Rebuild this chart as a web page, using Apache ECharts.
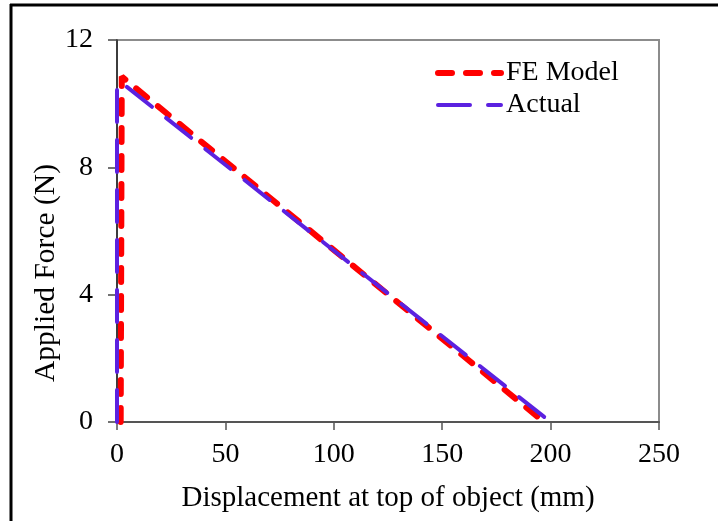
<!DOCTYPE html>
<html>
<head>
<meta charset="utf-8">
<script src="https://cdn.jsdelivr.net/npm/echarts@6/dist/echarts.min.js"></script>
<style>
  html, body { margin: 0; padding: 0; background: #fff; }
  #chart { width: 718px; height: 521px; }
</style>
</head>
<body>
<div id="chart"></div>
<script>
// values
const feX = [1.7, 2.2, 197];
const feY = [0, 10.85, 0];
const actualX = [0, 0, 2.8, 200];
const actualY = [0, 10.65, 10.62, 0];

const xTicks = [0, 50, 100, 150, 200, 250];
const yTicks = [0, 4, 8, 12];

const pairs = (xs, ys) => xs.map((x, i) => [x, ys[i]]);

const FONT = '"Liberation Serif", "Times New Roman", serif';
const RED = '#ff0000';
const VIOLET = '#5b21e0';
const feLine = { color: RED, width: 6, type: [14, 14], cap: 'round' };
const actualLine = { color: VIOLET, width: 4, type: [32, 18], cap: 'round' };

const chart = echarts.init(document.getElementById('chart'));

chart.setOption({
  backgroundColor: '#fff',
  animation: false,
  textStyle: { fontFamily: FONT, color: '#000' },
  grid: {
    left: 117, top: 40, right: 59, bottom: 99,
    show: true, borderColor: '#8c8c8c', borderWidth: 2
  },
  legend: {
    left: 430, top: 54,
    orient: 'vertical',
    itemWidth: 63, itemHeight: 16, itemGap: 4,
    itemStyle: { opacity: 0 },
    textStyle: { fontFamily: FONT, fontSize: 28, color: '#000' },
    data: [
      { name: 'FE Model', lineStyle: { width: 6, type: [14, 14], cap: 'round', color: RED } },
      { name: 'Actual', lineStyle: { width: 4, type: [32, 18], cap: 'round', color: VIOLET } }
    ]
  },
  xAxis: {
    type: 'value',
    min: xTicks[0], max: xTicks[xTicks.length - 1], interval: 50,
    name: 'Displacement at top of object (mm)',
    nameLocation: 'middle', nameGap: 62,
    nameTextStyle: { fontFamily: FONT, fontSize: 29, color: '#000' },
    axisLine: { show: true, onZero: false, lineStyle: { color: '#555', width: 2 } },
    axisTick: { show: true, inside: false, length: 8, lineStyle: { color: '#555', width: 1.5 } },
    axisLabel: { fontFamily: FONT, fontSize: 28, color: '#000', margin: 19 },
    splitLine: { show: false }
  },
  yAxis: {
    type: 'value',
    min: yTicks[0], max: yTicks[yTicks.length - 1], interval: 4,
    axisLine: { show: true, onZero: false, lineStyle: { color: '#222', width: 1.5 } },
    axisTick: { show: true, inside: false, length: 9, lineStyle: { color: '#444', width: 1.5 } },
    axisLabel: { fontFamily: FONT, fontSize: 28, color: '#000', margin: 24 },
    splitLine: { show: false }
  },
  graphic: [
    { type: 'line', shape: { x1: 10, y1: 5, x2: 718, y2: 5 }, style: { stroke: '#000', lineWidth: 3 } },
    { type: 'line', shape: { x1: 11, y1: 4, x2: 11, y2: 521 }, style: { stroke: '#000', lineWidth: 3 } },
    {
      type: 'text', x: 46, y: 273, rotation: Math.PI / 2,
      style: {
        text: 'Applied Force (N)', fontFamily: FONT, fontSize: 29.5, fill: '#000',
        textAlign: 'center', textVerticalAlign: 'middle'
      }
    }
  ],
  series: [
    {
      name: 'FE Model', type: 'line', symbol: 'none',
      data: pairs(feX, feY),
      lineStyle: feLine,
      itemStyle: { color: RED }
    },
    {
      name: 'Actual', type: 'line', symbol: 'none',
      data: pairs(actualX, actualY),
      lineStyle: actualLine,
      itemStyle: { color: VIOLET }
    }
  ]
});
</script>
</body>
</html>
